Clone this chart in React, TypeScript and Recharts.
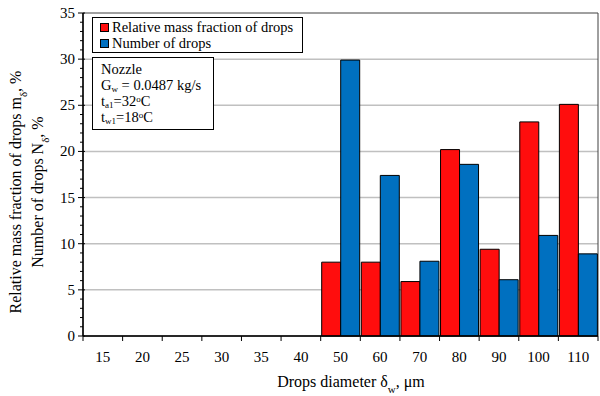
import React from "react";
import {
  BarChart,
  Bar,
  XAxis,
  YAxis,
  CartesianGrid,
  Legend,
  ReferenceArea,
} from "recharts";

const categories = ["15", "20", "25", "30", "35", "40", "50", "60", "70", "80", "90", "100", "110"];
const massFraction = [null, null, null, null, null, null, 8.0, 8.0, 5.9, 20.2, 9.4, 23.2, 25.1];
const dropCount = [null, null, null, null, null, null, 29.9, 17.4, 8.1, 18.6, 6.1, 10.9, 8.9];
const seriesNames = ["Relative mass fraction of drops", "Number of drops"];
const yTicks = Array.from({ length: 36 }, (_, i) => i);
const gridValues = [5, 10, 15, 20, 25, 30];
const Y_MAX = 35;

const FONT = "Liberation Serif";
const W = 600;
const H = 396;
const LEFT = 83;
const RIGHT = 598;
const TOP = 13;
const BOTTOM = 336;
const BAND = (RIGHT - LEFT) / categories.length;

const data = categories.map((c, i) => ({
  name: c,
  mass: massFraction[i],
  count: dropCount[i],
}));

const YTick = ({ x, y, payload }: any) => {
  const major = payload.value % 5 === 0;
  return (
    <g>
      <line x1={x - (major ? 5 : 3)} x2={major ? x + 2 : x} y1={y} y2={y} stroke="#000" />
      {major && (
        <text x={x - 8} y={y} dy={5} textAnchor="end" fontSize={15} fontFamily={FONT} fill="#000">
          {payload.value}
        </text>
      )}
    </g>
  );
};

const XTick = ({ x, y, payload, index }: any) => (
  <g>
    <line x1={x - BAND / 2} x2={x - BAND / 2} y1={y} y2={y + 5} stroke="#000" />
    {index === categories.length - 1 && (
      <line x1={x + BAND / 2} x2={x + BAND / 2} y1={y} y2={y + 5} stroke="#000" />
    )}
    <text x={x} y={y + 26} textAnchor="middle" fontSize={15} fontFamily={FONT} fill="#000">
      {payload.value}
    </text>
  </g>
);

const YLabel = () => (
  <g fontFamily={FONT} fontSize={16} fill="#000">
    <text transform="translate(21,192) rotate(-90)" textAnchor="middle">
      Relative mass fraction of drops m
      <tspan fontSize={11} baselineShift="sub">δ</tspan>, %
    </text>
    <text transform="translate(43,192) rotate(-90)" textAnchor="middle">
      Number of drops N
      <tspan fontSize={11} baselineShift="sub">δ</tspan>, %
    </text>
  </g>
);

const XLabel = () => (
  <text x={351} y={387} textAnchor="middle" fontFamily={FONT} fontSize={16} fill="#000">
    Drops diameter δ<tspan fontSize={11} baselineShift="sub">w</tspan>, μm
  </text>
);

const LegendBox = ({ payload }: any) => {
  const items = seriesNames
    .map((n) => (payload || []).find((p: any) => p.value === n))
    .filter(Boolean);
  return (
    <div
      style={{
        border: "1px solid #000",
        background: "#fff",
        padding: "1px 4px 1px 7px",
        fontFamily: FONT,
        fontSize: 14.5,
        lineHeight: "16px",
        color: "#000",
      }}
    >
      {items.map((entry: any, i: number) => (
        <div key={`item-${i}`} style={{ display: "flex", alignItems: "center" }}>
          <span
            style={{
              width: 7,
              height: 7,
              border: "1px solid #000",
              background: entry.color,
              marginRight: 3,
              display: "inline-block",
            }}
          />
          <span>{entry.value}</span>
        </div>
      ))}
    </div>
  );
};

const sub = { fontSize: 9, position: "relative", top: 2, lineHeight: 0 } as const;
const sup = { fontSize: 9, position: "relative", top: -4, lineHeight: 0 } as const;

const App = () => {
  return (
    <div style={{ position: "absolute", left: 0, top: 0, width: W, height: H, background: "#fff" }}>
      <BarChart
        width={W}
        height={H}
        data={data}
        margin={{ top: TOP, right: W - RIGHT, left: 43, bottom: 15 }}
        barCategoryGap={1}
        barGap={0}
      >
        <CartesianGrid
          vertical={false}
          stroke="#c0c0c0"
          strokeWidth={1.5}
          horizontalCoordinatesGenerator={({ offset }: any) =>
            gridValues.map((v) => offset.top + offset.height * (1 - v / Y_MAX))
          }
        />
        <XAxis
          dataKey="name"
          interval={0}
          tickLine={false}
          tickSize={0}
          tickMargin={0}
          height={H - BOTTOM - 15}
          axisLine={{ stroke: "#000", strokeWidth: 1.5 }}
          tick={<XTick />}
          label={<XLabel />}
        />
        <YAxis
          width={40}
          domain={[0, Y_MAX]}
          ticks={yTicks}
          interval={0}
          tickLine={false}
          tickSize={0}
          tickMargin={0}
          axisLine={{ stroke: "#000", strokeWidth: 1.5 }}
          tick={<YTick />}
          label={<YLabel />}
        />
        <ReferenceArea y1={0} y2={Y_MAX} fill="none" stroke="#404040" strokeWidth={1} />
        <Legend
          layout="vertical"
          align="center"
          verticalAlign="middle"
          content={<LegendBox />}
          wrapperStyle={{ position: "absolute", left: 92, top: 17, width: 211 }}
        />
        <Bar
          dataKey="mass"
          name={seriesNames[0]}
          fill="#ff0d0d"
          stroke="#000"
          strokeWidth={1}
          isAnimationActive={false}
        />
        <Bar
          dataKey="count"
          name={seriesNames[1]}
          fill="#0070c0"
          stroke="#000"
          strokeWidth={1}
          isAnimationActive={false}
        />
      </BarChart>
      <div
        style={{
          position: "absolute",
          left: 92,
          top: 57,
          width: 108,
          padding: "3px 4px 4px 8px",
          border: "1px solid #000",
          background: "#fff",
          fontFamily: FONT,
          fontSize: 14.5,
          lineHeight: "16px",
          color: "#000",
        }}
      >
        <div>Nozzle</div>
        <div>
          G<span style={sub}>w</span> = 0.0487 kg/s
        </div>
        <div>
          t<span style={sub}>a1</span>=32<span style={sup}>o</span>C
        </div>
        <div>
          t<span style={sub}>w1</span>=18<span style={sup}>o</span>C
        </div>
      </div>
    </div>
  );
};

export default App;
